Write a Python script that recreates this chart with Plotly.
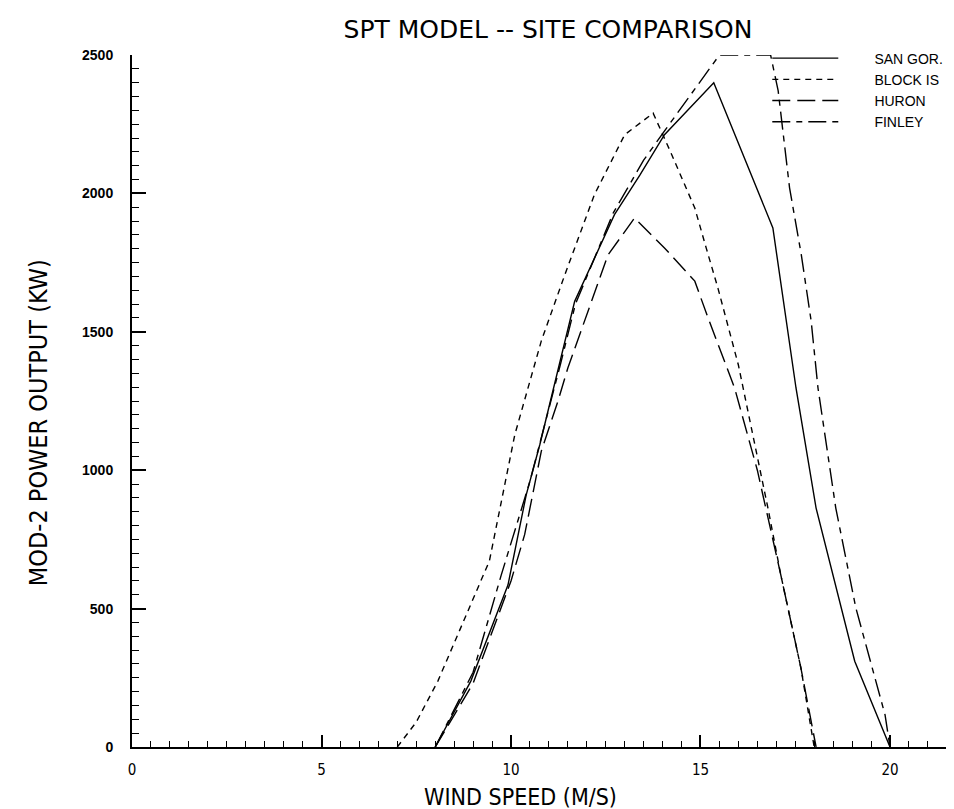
import plotly.graph_objects as go

# ---- data ----
san_gor_x = [8.0, 8.94, 9.92, 10.4, 10.76, 11.68, 12.73, 13.4, 14.05, 15.35, 16.91, 17.52, 18.05, 19.07, 20.0]
san_gor_y = [0, 238, 585, 910, 1092, 1610, 1923, 2066, 2212, 2400, 1875, 1297, 863, 310, 0]

block_is_x = [7.0, 7.5, 8.07, 9.43, 10.1, 10.8, 11.42, 12.2, 13.0, 13.75, 14.2, 14.85, 15.15, 15.46, 16.0, 16.78, 17.12, 17.65, 18.0]
block_is_y = [0, 90, 238, 672, 1128, 1467, 1706, 1995, 2212, 2290, 2153, 1947, 1803, 1658, 1380, 863, 621, 285, 0]

huron_x = [8.0, 9.0, 10.0, 10.36, 10.8, 11.24, 11.5, 12.56, 13.26, 14.05, 14.85, 15.2, 15.9, 16.5, 17.12, 17.65, 18.05]
huron_y = [0, 230, 600, 767, 1069, 1250, 1369, 1778, 1911, 1803, 1683, 1550, 1297, 1000, 621, 285, 0]

finley_x = [8.0, 9.0, 9.74, 10.5, 11.3, 11.7, 12.7, 13.5, 14.1, 15.2, 15.5, 16.85, 17.05, 17.35, 17.66, 17.92, 18.1, 18.57, 19.1, 19.87, 20.0]
finley_y = [0, 270, 620, 960, 1380, 1600, 1930, 2120, 2235, 2442, 2500, 2500, 2370, 2020, 1778, 1539, 1297, 863, 502, 116, 0]

series_names = ["SAN GOR.", "BLOCK IS", "HURON", "FINLEY"]
x_tick_vals = [0, 5, 10, 15, 20]
y_tick_vals = [0, 500, 1000, 1500, 2000, 2500]

title_text = "SPT MODEL -- SITE COMPARISON"
x_title = "WIND SPEED (M/S)"
y_title = "MOD-2 POWER OUTPUT (KW)"

# ---- styling ----
NARROW = "Liberation Sans Narrow, DejaVu Sans Condensed, Arial Narrow, sans-serif"
REG = "Liberation Sans, Arial, sans-serif"
WIDE = "DejaVu Sans, Verdana, sans-serif"
dashes = ["solid", "6px,5px", "18px,7px", "18px,6px,6px,6px"]
pad = "\u00a0" * 8

fig = go.Figure()
for name, xs, ys, d in zip(series_names,
                           [san_gor_x, block_is_x, huron_x, finley_x],
                           [san_gor_y, block_is_y, huron_y, finley_y],
                           dashes):
    fig.add_trace(go.Scatter(x=xs, y=ys, mode="lines", name=pad + name,
                             line=dict(color="black", width=1.4, dash=d),
                             cliponaxis=False))

fig.add_annotation(text=x_title, xref="x", yref="paper", x=10.24, y=-50 / 692,
                   xanchor="center", yanchor="middle", showarrow=False,
                   font=dict(family=NARROW, size=23, color="black"))
fig.add_annotation(text=y_title, xref="paper", yref="paper", x=-94 / 830, y=0.468,
                   xanchor="center", yanchor="middle", showarrow=False, textangle=-90,
                   font=dict(family=NARROW, size=25, color="black"))

fig.update_layout(
    width=954, height=809,
    margin=dict(l=124, r=0, t=47, b=70),
    paper_bgcolor="white", plot_bgcolor="white",
    showlegend=True,
    title=dict(text=title_text, x=540 / 954, xref="container", xanchor="center",
               y=1 - 21 / 809, yref="container", yanchor="middle",
               font=dict(family=WIDE, size=25, color="black")),
    legend=dict(x=0.7654, y=1.018, xanchor="left", yanchor="top",
                font=dict(family=REG, size=14, color="black"),
                itemwidth=66, bgcolor="rgba(0,0,0,0)", borderwidth=0,
                tracegroupgap=0),
    xaxis=dict(range=[0, 21.9], showgrid=False, zeroline=False,
               showline=True, linecolor="black", linewidth=2,
               ticks="inside", ticklen=12, tickwidth=1.5, tickcolor="black",
               tickvals=x_tick_vals, ticklabelstandoff=8,
               tickfont=dict(family=NARROW, size=15, color="black"),
               minor=dict(dtick=0.5, ticks="inside", ticklen=6, tickwidth=1.2, tickcolor="black")),
    yaxis=dict(range=[0, 2500], showgrid=False, zeroline=False,
               showline=True, linecolor="black", linewidth=2,
               ticks="inside", ticklen=14, tickwidth=1.5, tickcolor="black",
               tickvals=y_tick_vals, ticklabelstandoff=14,
               tickfont=dict(family=REG, size=14, color="black", weight="bold"),
               minor=dict(dtick=50, ticks="inside", ticklen=7, tickwidth=1.2, tickcolor="black")),
)

fig.write_html("out.html")
